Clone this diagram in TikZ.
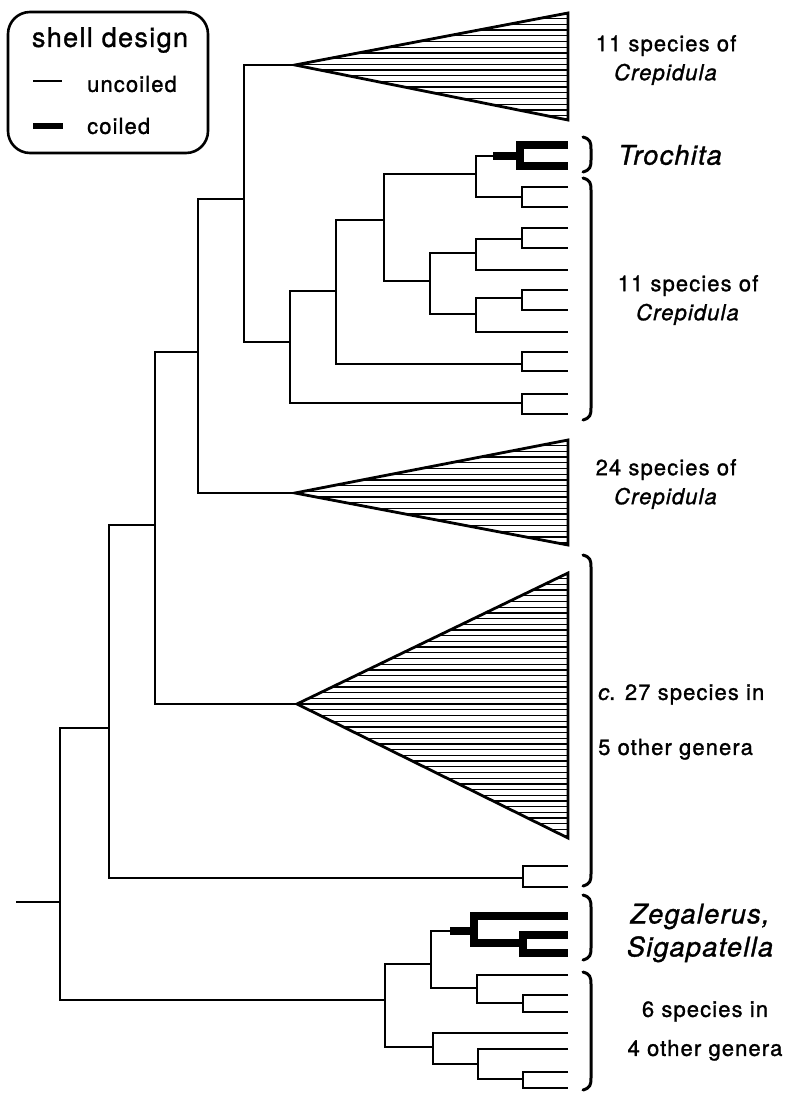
\documentclass[tikz,border=0pt]{standalone}
\usepackage{fontspec}
\setmainfont{TeX Gyre Heros}[LetterSpace=5, FakeBold=1.2]
\begin{document}
\begin{tikzpicture}[x=1pt, y=-1pt,
    branch/.style={line width=2.4pt},
    coiled/.style={line width=8pt},
    clade/.style={line width=2.8pt, line join=miter},
    hatch/.style={line width=1.3pt},
    brace/.style={line width=3pt, line cap=round},
    taxon/.style={font=\fontsize{22}{29}\selectfont, align=center, inner sep=0pt},
    genus/.style={font=\fontsize{27}{33}\selectfont\itshape, align=center, inner sep=0pt},
    legtext/.style={font=\fontsize{22}{22}\selectfont, inner sep=0pt}]
\useasboundingbox (0,0) rectangle (802,1093);

% legend
\node[draw, line width=2.6pt, rounded corners=22pt, minimum width=200pt, minimum height=141pt] (legend) at (108,82.5) {};
\node[font=\fontsize{27}{27}\selectfont, inner sep=0pt] (legtitle) at (110,40) {shell design};
\coordinate (unc-a) at (33,81);
\coordinate (unc-b) at (62,81);
\draw[line width=1.5pt] (unc-a) -- (unc-b);
\node[legtext, anchor=west] (unc) at (87,84) {uncoiled};
\coordinate (coi-a) at (33,126);
\coordinate (coi-b) at (63,126);
\draw[line width=6pt] (coi-a) -- (coi-b);
\node[legtext, anchor=west] (coi) at (87,126) {coiled};

% collapsed clades
\foreach \nm/\ax/\ay/\tp/\bt in {t11/295/65/13/120, t24/295/493/440/545, t27/297/704/573/838} {
  \coordinate (\nm) at (\ax,\ay);
  \begin{scope}
    \clip (\nm) -- (568,\tp) -- (568,\bt) -- cycle;
    \foreach \k in {0,...,48}
      \draw[hatch] (\ax,\tp+\k*5.7) -- (570,\tp+\k*5.7);
  \end{scope}
  \draw[clade] (\nm) -- (568,\tp) -- (568,\bt) -- cycle;
}

% species pairs
\foreach \nm/\xx/\yy/\ya/\yb in {q1/522/197/187/207, q2/522/239/228/248, q3/522/298/290/310,
    q4/522/364/352/371, q5/522/403/394/414, q6/523/878/866/887, q7/523/1003/995/1012, q8/523/1079/1072/1088} {
  \coordinate (\nm) at (\xx,\yy);
  \coordinate (\nm-1) at (568,\ya);
  \coordinate (\nm-2) at (568,\yb);
  \draw[branch] (\nm-1) -| (\nm) |- (\nm-2);
}

% internal nodes
\coordinate (root-in) at (16,902);
\coordinate (r) at (60,902);
\coordinate (a) at (109,728);
\coordinate (c) at (155,525);
\coordinate (d) at (198,352);
\coordinate (e) at (244,199);
\coordinate (f) at (290,342);
\coordinate (g) at (336,291);
\coordinate (h) at (384,220);
\coordinate (i) at (476,174);
\coordinate (j) at (430,281);
\coordinate (k) at (476,253);
\coordinate (l) at (476,314);
\coordinate (tr-s) at (493,156);
\coordinate (tr) at (520,156);
\coordinate (tr-1) at (568,145);
\coordinate (tr-2) at (568,166);
\coordinate (b) at (385,1000);
\coordinate (m) at (431,964);
\coordinate (n) at (433,1047);
\coordinate (o) at (477,988);
\coordinate (p) at (478,1064);
\coordinate (zg-s) at (450,931);
\coordinate (zg) at (474,931);
\coordinate (zg-1) at (568,916);
\coordinate (zg2) at (523,943);
\coordinate (zg2-1) at (568,935);
\coordinate (zg2-2) at (568,953);
% single leaves
\coordinate (k-l) at (568,270);
\coordinate (l-l) at (568,332);
\coordinate (o-l) at (568,975);
\coordinate (n-l) at (568,1033);
\coordinate (p-l) at (568,1049);

\draw[branch] (root-in) -- (r);
\draw[branch] (a) -| (r) |- (b);
\draw[branch] (c) -| (a) |- (q6);
\draw[branch] (d) -| (c) |- (t27);
\draw[branch] (e) -| (d) |- (t24);
\draw[branch] (t11) -| (e) |- (f);
\draw[branch] (g) -| (f) |- (q5);
\draw[branch] (h) -| (g) |- (q4);
\draw[branch] (i) -| (h) |- (j);
\draw[branch] (tr-s) -| (i) |- (q1);
\draw[branch] (k) -| (j) |- (l);
\draw[branch] (q2) -| (k) |- (k-l);
\draw[branch] (q3) -| (l) |- (l-l);
\draw[coiled] (tr-s) -- (tr);
\draw[coiled] (tr-1) -| (tr) |- (tr-2);

\draw[branch] (m) -| (b) |- (n);
\draw[branch] (zg-s) -| (m) |- (o);
\draw[branch] (o-l) -| (o) |- (q7);
\draw[branch] (n-l) -| (n) |- (p);
\draw[branch] (p-l) -| (p) |- (q8);
\draw[coiled] (zg-s) -- (zg);
\draw[coiled] (zg-1) -| (zg) |- (zg2);
\draw[coiled] (zg2-1) -| (zg2) |- (zg2-2);

% brackets
\foreach \nm/\tp/\bt in {br1/137/172, br2/178/420, br3/555/886, br4/895/960, br5/972/1090} {
  \coordinate (\nm-t) at (583,\tp);
  \coordinate (\nm-b) at (583,\bt);
  \draw[brace] (\nm-t) .. controls (590,\tp+2) and (591,\tp+5) .. (591,\tp+12)
    -- (591,\bt-12) .. controls (591,\bt-5) and (590,\bt-2) .. (\nm-b);
}

% labels
\node[taxon] (crep1) at (666,60) {11 species of\\\textit{Crepidula}};
\node[genus] (troch) at (670,155) {Trochita};
\node[taxon] (crep2) at (688,300) {11 species of\\\textit{Crepidula}};
\node[taxon] (crep3) at (666,484) {24 species of\\\textit{Crepidula}};
\node[taxon, align=left, anchor=west, font=\fontsize{22}{55}\selectfont] (others5) at (598,722) {\textit{c}. 27 species in\\5 other genera};
\node[genus] (zegal) at (700,933) {Zegalerus,\\Sigapatella};
\node[taxon, font=\fontsize{22}{39}\selectfont] (others4) at (705,1031) {6 species in\\4 other genera};
\end{tikzpicture}
\end{document}
